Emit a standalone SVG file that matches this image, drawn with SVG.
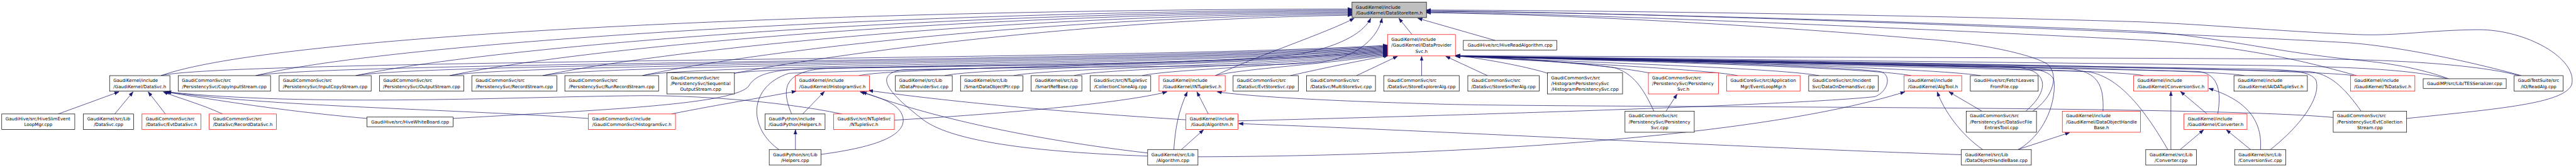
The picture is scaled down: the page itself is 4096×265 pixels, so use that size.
<svg xmlns="http://www.w3.org/2000/svg" width="4096" height="265" viewBox="0 0 4096 265">
<defs>
<marker id="ah" viewBox="0 -6 14 12" refX="13" refY="0" markerWidth="14" markerHeight="12" markerUnits="userSpaceOnUse" orient="auto"><path d="M0,-4.7L13,0L0,4.7z" fill="#191970" stroke="#191970" stroke-width="1"/></marker>
<style>
.n rect{fill:#fff;stroke:#000;stroke-width:1.33}
.r rect{stroke:#f00}
.root rect{fill:#bfbfbf}
text{font-family:"DejaVu Sans","Liberation Sans",sans-serif;font-size:12.9px;fill:#000;text-rendering:geometricPrecision}
.c{text-anchor:middle}
#edges path{fill:none;stroke:#191970;stroke-width:1.33;marker-end:url(#ah)}
</style>
</defs>
<rect width="4096" height="265" fill="#fff"/>
<g transform="scale(0.548)">
<g id="edges">
<path d="M467,219 C800,100 2400,28 3923,26"/>
<path d="M742,219 C1100,130 2500,34 3923,29"/>
<path d="M1032,219 C1400,140 2600,38 3923,32"/>
<path d="M1305,219 C1650,145 2700,42 3923,35"/>
<path d="M1575,219 C1900,150 2850,46 3923,38"/>
<path d="M1864,219 C2150,155 3000,50 3923,41"/>
<path d="M2131,212 C2400,160 3150,55 3923,44"/>
<path d="M3526,219 C3650,160 3850,95 3929,53"/>
<path d="M1315,343 C1700,320 2150,305 2175,245 C2200,210 2250,200 2400,197 C3000,188 3650,180 3780,155 C3900,130 3960,90 3977,53"/>
<path d="M3330,452 C3000,440 2750,410 2670,340 C2580,270 2530,215 2620,202 C3000,192 3700,195 3830,180 C3950,165 4000,100 4010,53"/>
<path d="M4097,100 L4059,53"/>
<path d="M4338,117 L4114,53"/>
<path d="M6983,343 C7250,315 7440,300 7462,245 C7480,170 7330,85 7190,86 C7050,87 6950,105 6840,100 C6600,90 6400,70 6200,63 C5500,42 4600,30 4139,29"/>
<path d="M7316,219 C7100,160 6900,128 6800,123 C6400,100 5000,40 4139,31"/>
<path d="M7105,228 C7000,190 6900,180 6820,172 C6600,150 6400,100 6200,90 C5500,60 4600,35 4139,33"/>
<path d="M6838,219 C6700,180 6500,130 6200,115 C5500,80 4600,40 4139,35"/>
<path d="M5898,322 C5960,280 5975,215 5940,185 C5880,150 5700,120 5580,113 C5200,80 4600,42 4139,37"/>
<path d="M467,219 C650,172 3300,175 4026,131"/>
<path d="M742,219 C950,180 3300,178 4026,133"/>
<path d="M1032,219 C1250,180 3350,180 4026,135"/>
<path d="M1305,219 C1500,182 3400,182 4026,137"/>
<path d="M1575,219 C1750,184 3400,184 4026,139"/>
<path d="M1864,219 C2000,186 3450,186 4026,141"/>
<path d="M2131,212 C2250,190 3450,188 4026,143"/>
<path d="M2492,219 C2600,194 3500,190 4026,145"/>
<path d="M2297,330 C2265,255 2275,205 2400,198 C2900,190 3550,186 4026,147"/>
<path d="M2260,433 C2170,370 2170,250 2290,212 C2700,198 3550,190 4026,149"/>
<path d="M2741,219 C2850,195 3550,192 4026,151"/>
<path d="M2941,219 C3050,197 3600,194 4026,153"/>
<path d="M3116,219 C3200,198 3650,196 4026,155"/>
<path d="M3314,219 C3400,200 3700,196 4026,157"/>
<path d="M3526,219 C3600,200 3800,190 4026,159"/>
<path d="M3744,219 C3850,195 3950,175 4028,161"/>
<path d="M3936,219 L4055,163"/>
<path d="M4125,219 L4125,163"/>
<path d="M4316,219 L4195,163"/>
<path d="M4490,212 C4420,190 4300,170 4224,160"/>
<path d="M4790,212 C4650,185 4400,170 4224,161"/>
<path d="M4799,322 C4770,260 4740,210 4680,195 C4550,178 4350,166 4224,161"/>
<path d="M5042,219 C4950,200 4500,180 4224,162"/>
<path d="M5278,219 C5150,195 4500,178 4224,162"/>
<path d="M5546,219 C5400,192 4600,175 4224,162"/>
<path d="M5747,219 C5600,195 4700,172 4224,162"/>
<path d="M5878,322 C5950,260 5940,205 5860,196 C5500,186 4600,170 4224,163"/>
<path d="M6102,322 C6105,250 6090,205 6000,199 C5500,188 4600,172 4224,163"/>
<path d="M5857,433 C5945,380 5965,280 5960,235 C5955,205 5900,193 5800,192 C5200,184 4500,170 4224,163"/>
<path d="M6220,219 C6150,200 5000,178 4224,162"/>
<path d="M6435,330 C6445,270 6440,215 6380,207 C5800,194 4800,172 4224,162"/>
<path d="M6290,433 C6230,330 6150,215 6050,207 C5500,192 4600,172 4224,163"/>
<path d="M6588,433 C6680,360 6735,280 6720,232 C6705,207 6650,202 6550,200 C5800,188 4800,172 4224,163"/>
<path d="M6512,219 C6400,196 5000,178 4224,162"/>
<path d="M6830,219 C6700,198 5200,176 4224,162"/>
<path d="M7100,228 C7000,200 6800,194 6600,190 C5800,180 4800,170 4224,162"/>
<path d="M7310,219 C7200,190 7000,176 6800,172 C6000,166 4900,166 4224,161"/>
<path d="M6851,322 C6800,250 6760,214 6700,207 C6000,192 4800,172 4224,162"/>
<path d="M3592,350 C4200,335 5200,305 5440,280 C5480,265 5490,215 5455,207 C5300,188 4500,170 4224,162"/>
<path d="M5691,448 C5000,425 4200,380 3594,358"/>
<path d="M3476,454 C4200,452 5100,400 5527,266"/>
<path d="M6769,340 C6400,305 4600,312 4200,302 C3900,294 3650,282 3532,266"/>
<path d="M2595,348 C2900,330 3250,300 3386,266"/>
<path d="M2443,330 C2250,290 2000,276 1860,277 C1500,280 900,310 484,266"/>
<path d="M3506,330 L3473,266"/>
<path d="M3406,433 C3410,370 3420,320 3445,266"/>
<path d="M3428,433 L3492,376"/>
<path d="M3441,347 C3100,325 2800,300 2520,262"/>
<path d="M3330,443 C3000,405 2700,340 2502,266"/>
<path d="M1948,330 C2100,300 2200,285 2310,264"/>
<path d="M1707,343 C1300,315 800,310 482,266"/>
<path d="M2329,330 L2392,265"/>
<path d="M2308,433 L2308,376"/>
<path d="M2382,447 C2550,425 2630,390 2620,340 C2610,300 2560,285 2496,266"/>
<path d="M1065,343 C800,320 600,285 478,266"/>
<path d="M169,330 L345,266"/>
<path d="M333,330 L386,266"/>
<path d="M480,330 L430,266"/>
<path d="M646,330 C580,300 520,285 474,266"/>
<path d="M5751,322 L5655,266"/>
<path d="M5753,433 C5690,390 5640,320 5621,266"/>
<path d="M5855,433 L6005,384"/>
<path d="M6299,433 L6299,265"/>
<path d="M6404,330 L6327,265"/>
<path d="M6559,433 C6565,350 6520,290 6409,256"/>
<path d="M6326,433 L6394,376"/>
<path d="M6530,433 L6460,376"/>
<path d="M4834,322 L4866,273"/>
</g>
<g id="n_hiveslim" class="n"><rect x="5" y="330" width="212" height="45"/><text x="16" y="348.7">GaudiHive/src/HiveSlimEvent</text><text class="c" x="111" y="365.7">LoopMgr.cpp</text></g>
<g id="n_datasvccpp" class="n"><rect x="242" y="330" width="146" height="45"/><text x="253" y="348.7">GaudiKernel/src/Lib</text><text class="c" x="315" y="365.7">/DataSvc.cpp</text></g>
<g id="n_evtdatasvch" class="n r"><rect x="412" y="330" width="171" height="45"/><text x="423" y="348.7">GaudiCommonSvc/src</text><text class="c" x="497.5" y="365.7">/DataSvc/EvtDataSvc.h</text></g>
<g id="n_recorddatasvch" class="n r"><rect x="607" y="330" width="195" height="45"/><text x="618" y="348.7">GaudiCommonSvc/src</text><text class="c" x="704.5" y="365.7">/DataSvc/RecordDataSvc.h</text></g>
<g id="n_datasvch" class="n"><rect x="318" y="219" width="175" height="45"/><text x="329" y="237.7">GaudiKernel/include</text><text class="c" x="405.5" y="254.7">/GaudiKernel/DataSvc.h</text></g>
<g id="n_copyinput" class="n"><rect x="517" y="219" width="268" height="45"/><text x="528" y="237.7">GaudiCommonSvc/src</text><text class="c" x="651" y="254.7">/PersistencySvc/CopyInputStream.cpp</text></g>
<g id="n_inputcopy" class="n"><rect x="810" y="219" width="267" height="45"/><text x="821" y="237.7">GaudiCommonSvc/src</text><text class="c" x="943.5" y="254.7">/PersistencySvc/InputCopyStream.cpp</text></g>
<g id="n_outputstream" class="n"><rect x="1101" y="219" width="245" height="45"/><text x="1112" y="237.7">GaudiCommonSvc/src</text><text class="c" x="1223.5" y="254.7">/PersistencySvc/OutputStream.cpp</text></g>
<g id="n_hivewhiteboard" class="n"><rect x="1065" y="339" width="250" height="28"/><text class="c" x="1190" y="357.7">GaudiHive/src/HiveWhiteBoard.cpp</text></g>
<g id="n_recordstream" class="n"><rect x="1369" y="219" width="247" height="45"/><text x="1380" y="237.7">GaudiCommonSvc/src</text><text class="c" x="1492.5" y="254.7">/PersistencySvc/RecordStream.cpp</text></g>
<g id="n_runrecordstream" class="n"><rect x="1639" y="219" width="272" height="45"/><text x="1650" y="237.7">GaudiCommonSvc/src</text><text class="c" x="1775" y="254.7">/PersistencySvc/RunRecordStream.cpp</text></g>
<g id="n_histogramsvch" class="n r"><rect x="1707" y="330" width="253" height="45"/><text x="1718" y="348.7">GaudiCommonSvc/include</text><text class="c" x="1833.5" y="365.7">/GaudiCommonSvc/HistogramSvc.h</text></g>
<g id="n_seqoutput" class="n"><rect x="1935" y="211" width="196" height="61"/><text x="1946" y="229.2">GaudiCommonSvc/src</text><text x="1946" y="246.2">/PersistencySvc/Sequential</text><text class="c" x="2033" y="263.2">OutputStream.cpp</text></g>
<g id="n_ihistogramsvch" class="n r"><rect x="2308" y="219" width="215" height="45"/><text x="2319" y="237.7">GaudiKernel/include</text><text class="c" x="2415.5" y="254.7">/GaudiKernel/IHistogramSvc.h</text></g>
<g id="n_helpersh" class="n"><rect x="2220" y="330" width="174" height="45"/><text x="2231" y="348.7">GaudiPython/include</text><text class="c" x="2307" y="365.7">/GaudiPython/Helpers.h</text></g>
<g id="n_ntuplesvch" class="n r"><rect x="2419" y="330" width="176" height="45"/><text x="2430" y="348.7">GaudiSvc/src/NTupleSvc</text><text class="c" x="2507" y="365.7">/NTupleSvc.h</text></g>
<g id="n_helperscpp" class="n"><rect x="2232" y="433" width="150" height="45"/><text x="2243" y="451.7">GaudiPython/src/Lib</text><text class="c" x="2307" y="468.7">/Helpers.cpp</text></g>
<g id="n_idataprovidersvccpp" class="n"><rect x="2598" y="219" width="165" height="45"/><text x="2609" y="237.7">GaudiKernel/src/Lib</text><text class="c" x="2680.5" y="254.7">/IDataProviderSvc.cpp</text></g>
<g id="n_smartdataobjectptr" class="n"><rect x="2787" y="219" width="181" height="45"/><text x="2798" y="237.7">GaudiKernel/src/Lib</text><text class="c" x="2877.5" y="254.7">/SmartDataObjectPtr.cpp</text></g>
<g id="n_smartrefbase" class="n"><rect x="2992" y="219" width="147" height="45"/><text x="3003" y="237.7">GaudiKernel/src/Lib</text><text class="c" x="3065.5" y="254.7">/SmartRefBase.cpp</text></g>
<g id="n_collectionclone" class="n"><rect x="3163" y="219" width="176" height="45"/><text x="3174" y="237.7">GaudiSvc/src/NTupleSvc</text><text class="c" x="3251" y="254.7">/CollectionCloneAlg.cpp</text></g>
<g id="n_intuplesvch" class="n r"><rect x="3363" y="219" width="192" height="45"/><text x="3374" y="237.7">GaudiKernel/include</text><text class="c" x="3459" y="254.7">/GaudiKernel/INTupleSvc.h</text></g>
<g id="n_evtstoresvc" class="n"><rect x="3578" y="219" width="189" height="45"/><text x="3589" y="237.7">GaudiCommonSvc/src</text><text class="c" x="3672.5" y="254.7">/DataSvc/EvtStoreSvc.cpp</text></g>
<g id="n_algorithmh" class="n r"><rect x="3441" y="330" width="151" height="45"/><text x="3452" y="348.7">GaudiKernel/include</text><text class="c" x="3516.5" y="365.7">/Gaudi/Algorithm.h</text></g>
<g id="n_algorithmcpp" class="n"><rect x="3330" y="433" width="146" height="45"/><text x="3341" y="451.7">GaudiKernel/src/Lib</text><text class="c" x="3403" y="468.7">/Algorithm.cpp</text></g>
<g id="n_datastoreitem" class="n root"><rect x="3923" y="6" width="216" height="45"/><text x="3934" y="24.7">GaudiKernel/include</text><text class="c" x="4031" y="41.7">/GaudiKernel/DataStoreItem.h</text></g>
<g id="n_idataprovidersvch" class="n r"><rect x="4026" y="100" width="197" height="62"/><text x="4037" y="118.7">GaudiKernel/include</text><text x="4037" y="135.7">/GaudiKernel/IDataProvider</text><text class="c" x="4124.5" y="152.7">Svc.h</text></g>
<g id="n_hivereadalg" class="n"><rect x="4246" y="117" width="271" height="28"/><text class="c" x="4381.5" y="135.7">GaudiHive/src/HiveReadAlgorithm.cpp</text></g>
<g id="n_multistoresvc" class="n"><rect x="3791" y="219" width="200" height="45"/><text x="3802" y="237.7">GaudiCommonSvc/src</text><text class="c" x="3891" y="254.7">/DataSvc/MultiStoreSvc.cpp</text></g>
<g id="n_storeexploreralg" class="n"><rect x="4015" y="219" width="219" height="45"/><text x="4026" y="237.7">GaudiCommonSvc/src</text><text class="c" x="4124.5" y="254.7">/DataSvc/StoreExplorerAlg.cpp</text></g>
<g id="n_storesnifferalg" class="n"><rect x="4259" y="219" width="207" height="45"/><text x="4270" y="237.7">GaudiCommonSvc/src</text><text class="c" x="4362.5" y="254.7">/DataSvc/StoreSnifferAlg.cpp</text></g>
<g id="n_histpersistencysvc" class="n"><rect x="4490" y="211" width="218" height="61"/><text x="4501" y="229.2">GaudiCommonSvc/src</text><text x="4501" y="246.2">/HistogramPersistencySvc</text><text class="c" x="4599" y="263.2">/HistogramPersistencySvc.cpp</text></g>
<g id="n_persistencysvch" class="n r"><rect x="4783" y="211" width="203" height="61"/><text x="4794" y="229.2">GaudiCommonSvc/src</text><text x="4794" y="246.2">/PersistencySvc/Persistency</text><text class="c" x="4884.5" y="263.2">Svc.h</text></g>
<g id="n_persistencysvccpp" class="n"><rect x="4715" y="322" width="201" height="61"/><text x="4726" y="340.2">GaudiCommonSvc/src</text><text x="4726" y="357.2">/PersistencySvc/Persistency</text><text class="c" x="4815.5" y="374.2">Svc.cpp</text></g>
<g id="n_eventloopmgrh" class="n r"><rect x="5010" y="219" width="213" height="45"/><text x="5021" y="237.7">GaudiCoreSvc/src/Application</text><text class="c" x="5116.5" y="254.7">Mgr/EventLoopMgr.h</text></g>
<g id="n_dataondemandsvc" class="n"><rect x="5248" y="219" width="202" height="45"/><text x="5259" y="237.7">GaudiCoreSvc/src/Incident</text><text class="c" x="5349" y="254.7">Svc/DataOnDemandSvc.cpp</text></g>
<g id="n_algtoolh" class="n r"><rect x="5525" y="219" width="167" height="45"/><text x="5536" y="237.7">GaudiKernel/include</text><text class="c" x="5608.5" y="254.7">/GaudiKernel/AlgTool.h</text></g>
<g id="n_fetchleaves" class="n"><rect x="5717" y="219" width="197" height="45"/><text x="5728" y="237.7">GaudiHive/src/FetchLeaves</text><text class="c" x="5815.5" y="254.7">FromFile.cpp</text></g>
<g id="n_datasvcfileentries" class="n"><rect x="5705" y="322" width="204" height="61"/><text x="5716" y="340.2">GaudiCommonSvc/src</text><text x="5716" y="357.2">/PersistencySvc/DataSvcFile</text><text class="c" x="5807" y="374.2">EntriesTool.cpp</text></g>
<g id="n_dohbh" class="n r"><rect x="5984" y="322" width="227" height="61"/><text x="5995" y="340.2">GaudiKernel/include</text><text x="5995" y="357.2">/GaudiKernel/DataObjectHandle</text><text class="c" x="6097.5" y="374.2">Base.h</text></g>
<g id="n_dohbcpp" class="n"><rect x="5691" y="433" width="203" height="45"/><text x="5702" y="451.7">GaudiKernel/src/Lib</text><text class="c" x="5792.5" y="468.7">/DataObjectHandleBase.cpp</text></g>
<g id="n_conversionsvch" class="n r"><rect x="6191" y="219" width="216" height="45"/><text x="6202" y="237.7">GaudiKernel/include</text><text class="c" x="6299" y="254.7">/GaudiKernel/ConversionSvc.h</text></g>
<g id="n_iaidatuplesvch" class="n"><rect x="6482" y="219" width="213" height="45"/><text x="6493" y="237.7">GaudiKernel/include</text><text class="c" x="6588.5" y="254.7">/GaudiKernel/IAIDATupleSvc.h</text></g>
<g id="n_tsdatasvch" class="n r"><rect x="6820" y="219" width="187" height="45"/><text x="6831" y="237.7">GaudiKernel/include</text><text class="c" x="6913.5" y="254.7">/GaudiKernel/TsDataSvc.h</text></g>
<g id="n_converterh" class="n r"><rect x="6337" y="330" width="183" height="45"/><text x="6348" y="348.7">GaudiKernel/include</text><text class="c" x="6428.5" y="365.7">/GaudiKernel/Converter.h</text></g>
<g id="n_convertercpp" class="n"><rect x="6226" y="433" width="147" height="45"/><text x="6237" y="451.7">GaudiKernel/src/Lib</text><text class="c" x="6299.5" y="468.7">/Converter.cpp</text></g>
<g id="n_conversionsvccpp" class="n"><rect x="6484" y="433" width="148" height="45"/><text x="6495" y="451.7">GaudiKernel/src/Lib</text><text class="c" x="6558" y="468.7">/ConversionSvc.cpp</text></g>
<g id="n_evtcollection" class="n"><rect x="6770" y="322" width="213" height="61"/><text x="6781" y="340.2">GaudiCommonSvc/src</text><text x="6781" y="357.2">/PersistencySvc/EvtCollection</text><text class="c" x="6876.5" y="374.2">Stream.cpp</text></g>
<g id="n_tesserializer" class="n"><rect x="7031" y="228" width="241" height="28"/><text class="c" x="7151.5" y="246.7">GaudiMP/src/Lib/TESSerializer.cpp</text></g>
<g id="n_readalg" class="n"><rect x="7295" y="219" width="142" height="45"/><text x="7306" y="237.7">GaudiTestSuite/src</text><text class="c" x="7366" y="254.7">/IO/ReadAlg.cpp</text></g>
</g>
</svg>
